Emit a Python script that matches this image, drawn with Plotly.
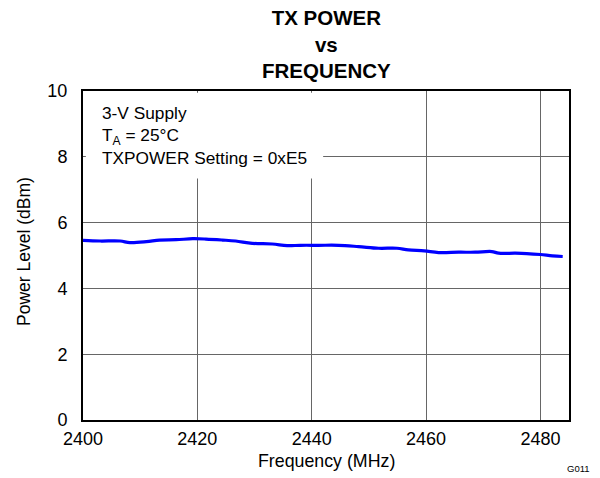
import plotly.graph_objects as go

# Data
freq_mhz = [2400.0, 2403.0, 2406.5, 2408.2, 2411.1, 2413.4, 2416.3, 2419.2, 2421.5, 2424.4,
            2426.7, 2429.6, 2433.1, 2435.7, 2438.0, 2441.2, 2444.7, 2448.2, 2451.7, 2454.9,
            2456.9, 2459.7, 2462.2, 2465.7, 2468.6, 2471.5, 2472.7, 2475.6, 2477.6, 2480.0,
            2482.1, 2483.9]
power_dbm = [5.46, 5.44, 5.44, 5.39, 5.42, 5.47, 5.48, 5.51, 5.50, 5.47,
             5.44, 5.37, 5.35, 5.30, 5.31, 5.31, 5.31, 5.27, 5.22, 5.22,
             5.17, 5.14, 5.09, 5.10, 5.10, 5.12, 5.07, 5.07, 5.06, 5.03,
             4.99, 4.97]

x_ticks = [2400, 2420, 2440, 2460, 2480]
y_ticks = [0, 2, 4, 6, 8, 10]
title_lines = ["TX POWER", "vs", "FREQUENCY"]
note_lines = ["3-V Supply", "T<sub>A</sub> = 25°C", "TXPOWER Setting = 0xE5"]

FONT = "Liberation Sans, Arial, sans-serif"

fig = go.Figure()
fig.add_trace(go.Scatter(x=freq_mhz, y=power_dbm, mode="lines",
                         line=dict(color="#0000FF", width=3.2), showlegend=False,
                         line_shape="spline"))

OFF = 8  # page body margin
W, H = 592, 470
L, T = 75, 83
PW, PH = 486, 329
R = W - L - PW
B = H - T - PH

def px(xref_pix):
    return (xref_pix - OFF - L) / PW

def py(yref_pix):
    return (H - B - (yref_pix - OFF)) / PH

annotations = [
    dict(text="<br>".join(f"<b>{t}</b>" for t in title_lines), xref="paper", yref="paper",
         x=px(326), y=py(44), xanchor="center", yanchor="middle", align="center",
         showarrow=False, font=dict(size=20.5, color="black", family=FONT)),
    dict(text="<br>".join(note_lines), xref="paper", yref="paper",
         x=px(100), y=py(135), xanchor="left", yanchor="middle", align="left",
         showarrow=False, font=dict(size=17.3, color="black", family=FONT)),
    dict(text="G011", xref="paper", yref="paper",
         x=px(578), y=py(468), xanchor="center", yanchor="middle",
         showarrow=False, font=dict(size=9.5, color="black", family=FONT)),
    dict(text="Power Level (dBm)", xref="paper", yref="paper",
         x=px(24), y=py(252), xanchor="center", yanchor="middle",
         textangle=-90, showarrow=False,
         font=dict(size=17.5, color="black", family=FONT)),
    dict(text="Frequency (MHz)", xref="paper", yref="paper",
         x=px(326), y=py(461), xanchor="center", yanchor="middle",
         showarrow=False, font=dict(size=17.8, color="black", family=FONT)),
]

fig.update_layout(
    width=W, height=H,
    margin=dict(l=L, r=R, t=T, b=B, autoexpand=False),
    paper_bgcolor="white", plot_bgcolor="white",
    font=dict(family=FONT, size=18, color="black"),
    annotations=annotations,
    shapes=[dict(type="rect", xref="x", yref="y", x0=2400.5, x1=2442.0, y0=7.34, y1=9.95,
                 fillcolor="white", line=dict(width=0), layer="between")],
    xaxis=dict(range=[2400, 2485], tickvals=x_ticks, showgrid=True, gridcolor="#666666",
               gridwidth=1, showline=True, linecolor="black", linewidth=2, mirror=True,
               ticks="", zeroline=False, ticklabelstandoff=1,
               tickfont=dict(size=18, family=FONT, color="black")),
    yaxis=dict(range=[0, 10], tickvals=y_ticks, showgrid=True, gridcolor="#666666",
               gridwidth=1, showline=True, linecolor="black", linewidth=2, mirror=True,
               ticks="", zeroline=False, ticklabelstandoff=10,
               tickfont=dict(size=18, family=FONT, color="black")),
)

fig.write_html("out.html")
